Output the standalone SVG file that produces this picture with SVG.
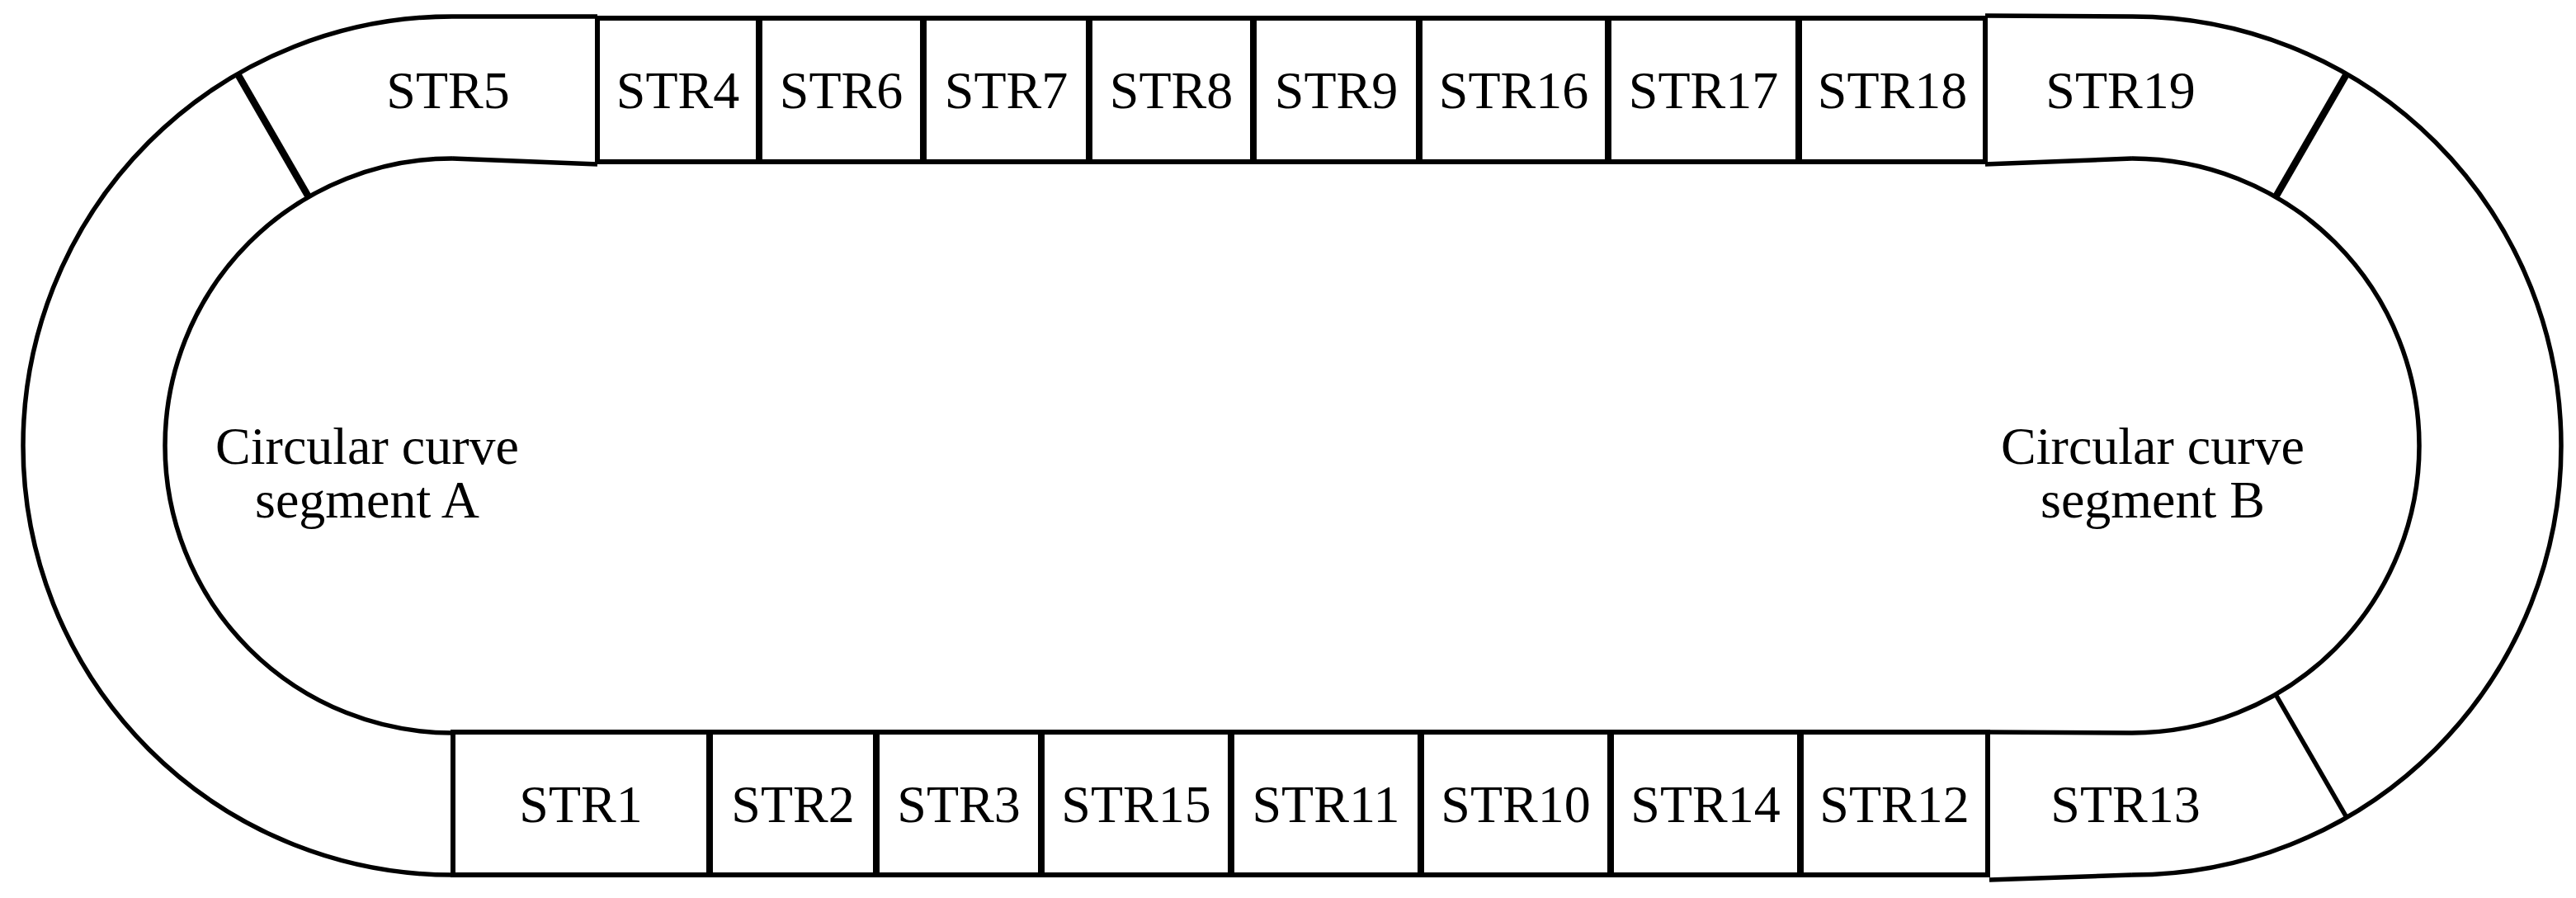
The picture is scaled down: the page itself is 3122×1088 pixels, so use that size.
<svg xmlns="http://www.w3.org/2000/svg" width="3122" height="1088" viewBox="0 0 3122 1088">
<style>
.ln{fill:none;stroke:#000;stroke-width:5.5;stroke-linejoin:round}
.bx{fill:#fff;stroke:#000;stroke-width:6}
.thick{fill:none;stroke:#000;stroke-width:8.5}
.t{font-family:"Liberation Serif","Times New Roman",serif;font-size:64px;fill:#000;text-anchor:middle}
</style>
<rect width="3122" height="1088" fill="#fff"/>
<g id="curve-segment-A">
<path class="ln" d="M548,20 A520,520 0 0 0 28,540 A520,520 0 0 0 548,1060"/>
<path class="ln" d="M548,192 A348,348 0 0 0 200,540 A348,348 0 0 0 548,888"/>
<text class="t" x="445" y="562">Circular curve</text>
<text class="t" x="445" y="627">segment A</text>
</g>
<g id="curve-segment-B">
<path class="ln" d="M2584,20 A520,520 0 0 1 3104,540 A520,520 0 0 1 2584,1060"/>
<path class="ln" d="M2584,192 A348,348 0 0 1 2932,540 A348,348 0 0 1 2584,888"/>
<text class="t" x="2609" y="562">Circular curve</text>
<text class="t" x="2609" y="627">segment B</text>
</g>
<g id="connectors">
<path class="thick" d="M288,89.7 L374,238.6"/>
<path class="thick" d="M2844,89.7 L2758,238.6"/>
<path class="ln" d="M2758,841.4 L2844,990.3"/>
</g>
<g id="STR5">
<path class="ln" d="M548,20 L724,20"/>
<path class="ln" d="M548,192 L724,199"/>
<text class="t" x="543" y="131">STR5</text>
</g>
<g id="STR19">
<path class="ln" d="M2406,19 L2584,20"/>
<path class="ln" d="M2406,199 L2584,192"/>
<text class="t" x="2570" y="131">STR19</text>
</g>
<g id="STR13">
<path class="ln" d="M2411,887 L2584,888"/>
<path class="ln" d="M2411,1066 L2584,1060"/>
<text class="t" x="2576" y="996">STR13</text>
</g>
<g id="STR4"><rect class="bx" x="724" y="22" width="195" height="174"/><text class="t" x="821.5" y="131">STR4</text></g>
<g id="STR6"><rect class="bx" x="921" y="22" width="197" height="174"/><text class="t" x="1019.5" y="131">STR6</text></g>
<g id="STR7"><rect class="bx" x="1120" y="22" width="199" height="174"/><text class="t" x="1219.5" y="131">STR7</text></g>
<g id="STR8"><rect class="bx" x="1321" y="22" width="197" height="174"/><text class="t" x="1419.5" y="131">STR8</text></g>
<g id="STR9"><rect class="bx" x="1520" y="22" width="199" height="174"/><text class="t" x="1619.5" y="131">STR9</text></g>
<g id="STR16"><rect class="bx" x="1721" y="22" width="227" height="174"/><text class="t" x="1834.5" y="131">STR16</text></g>
<g id="STR17"><rect class="bx" x="1950" y="22" width="229" height="174"/><text class="t" x="2064.5" y="131">STR17</text></g>
<g id="STR18"><rect class="bx" x="2181" y="22" width="225" height="174"/><text class="t" x="2293.5" y="131">STR18</text></g>
<g id="STR1"><rect class="bx" x="549" y="887" width="310" height="173"/><text class="t" x="704" y="996">STR1</text></g>
<g id="STR2"><rect class="bx" x="861" y="887" width="200" height="173"/><text class="t" x="961" y="996">STR2</text></g>
<g id="STR3"><rect class="bx" x="1063" y="887" width="198" height="173"/><text class="t" x="1162" y="996">STR3</text></g>
<g id="STR15"><rect class="bx" x="1263" y="887" width="228" height="173"/><text class="t" x="1377" y="996">STR15</text></g>
<g id="STR11"><rect class="bx" x="1493" y="887" width="228" height="173"/><text class="t" x="1607" y="996">STR11</text></g>
<g id="STR10"><rect class="bx" x="1723" y="887" width="228" height="173"/><text class="t" x="1837" y="996">STR10</text></g>
<g id="STR14"><rect class="bx" x="1953" y="887" width="228" height="173"/><text class="t" x="2067" y="996">STR14</text></g>
<g id="STR12"><rect class="bx" x="2183" y="887" width="226" height="173"/><text class="t" x="2296" y="996">STR12</text></g>
</svg>
